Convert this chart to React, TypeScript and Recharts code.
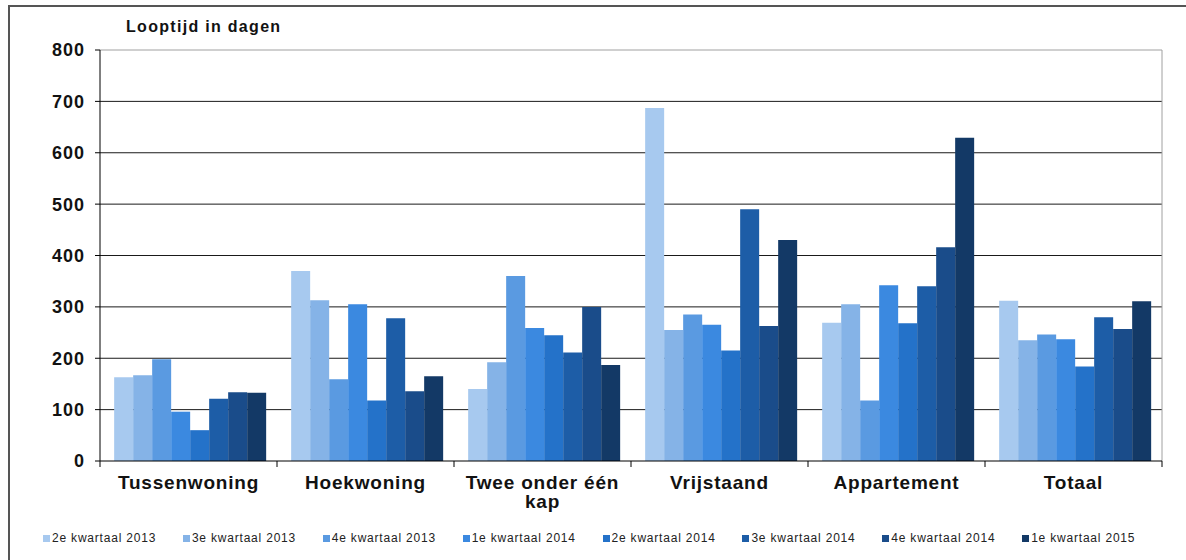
import React from "react";
import {
  BarChart,
  Bar,
  XAxis,
  YAxis,
  CartesianGrid,
  ReferenceLine,
  Legend,
} from "recharts";

// Looptijd (dagen) per woningtype, per kwartaal
const categories = [
  "Tussenwoning",
  "Hoekwoning",
  "Twee onder één kap",
  "Vrijstaand",
  "Appartement",
  "Totaal",
];

const q2_2013 = [163, 370, 140, 687, 269, 312];
const q3_2013 = [167, 313, 192, 255, 305, 235];
const q4_2013 = [198, 159, 360, 285, 118, 246];
const q1_2014 = [96, 305, 259, 265, 342, 237];
const q2_2014 = [60, 118, 245, 215, 268, 184];
const q3_2014 = [121, 278, 211, 490, 340, 280];
const q4_2014 = [134, 136, 300, 263, 416, 257];
const q1_2015 = [133, 165, 187, 430, 629, 311];

const seriesNames = [
  "2e kwartaal 2013",
  "3e kwartaal 2013",
  "4e kwartaal 2013",
  "1e kwartaal 2014",
  "2e kwartaal 2014",
  "3e kwartaal 2014",
  "4e kwartaal 2014",
  "1e kwartaal 2015",
];
const seriesValues = [q2_2013, q3_2013, q4_2013, q1_2014, q2_2014, q3_2014, q4_2014, q1_2015];
const seriesColors = [
  "#A7C9EF",
  "#85B3E7",
  "#5A9AE1",
  "#3B89E0",
  "#2472C9",
  "#1D5DA7",
  "#1A4C8A",
  "#133966",
];

const dayTicks = [0, 100, 200, 300, 400, 500, 600, 700, 800];
const gridValues = [100, 200, 300, 400, 500, 600, 700];

const data = categories.map((name, i) => {
  const row: Record<string, string | number> = { name };
  seriesNames.forEach((s, k) => {
    row[`s${k}`] = seriesValues[k][i];
  });
  return row;
});

const W = 1186;
const H = 560;
const MARGIN = { top: 50, right: 24, bottom: 0, left: 0 };
const Y_WIDTH = 100;
const BAND = (W - MARGIN.left - MARGIN.right - Y_WIDTH) / categories.length;
const FONT = "'Liberation Sans', Arial, sans-serif";
const INK = "#121212";

function wrapLabel(label: string, max = 15) {
  const lines: string[] = [];
  let cur = "";
  label.split(" ").forEach((w) => {
    const next = cur ? cur + " " + w : w;
    if (next.length > max && cur) {
      lines.push(cur);
      cur = w;
    } else {
      cur = next;
    }
  });
  if (cur) lines.push(cur);
  return lines;
}

function CategoryTick(props: any) {
  const { x, y, payload, index } = props;
  const lines = wrapLabel(String(payload.value));
  const left = x - BAND / 2;
  const right = x + BAND / 2;
  return (
    <g>
      <line x1={left} x2={left} y1={y} y2={y + 6} stroke="#000" strokeWidth={1} />
      {index === categories.length - 1 && (
        <line x1={right} x2={right} y1={y} y2={y + 6} stroke="#000" strokeWidth={1} />
      )}
      <text
        x={x}
        y={y + 28}
        textAnchor="middle"
        fill={INK}
        fontSize={19}
        fontWeight={700}
        letterSpacing={0.8}
        fontFamily={FONT}
      >
        {lines.map((l, i) => (
          <tspan key={i} x={x} dy={i === 0 ? 0 : 19}>
            {l}
          </tspan>
        ))}
      </text>
    </g>
  );
}

function LegendContent(props: any) {
  const items = [...(props.payload || [])].sort(
    (a: any, b: any) => seriesNames.indexOf(a.value) - seriesNames.indexOf(b.value)
  );
  return (
    <div
      style={{
        display: "flex",
        height: 39,
        paddingLeft: 43,
        paddingTop: 10,
        boxSizing: "border-box",
        fontFamily: FONT,
        fontSize: 12,
        letterSpacing: 0.8,
        color: "#222",
      }}
    >
      {items.map((item: any) => (
        <div
          key={item.value}
          style={{ width: 144.6, display: "flex", alignItems: "center", height: 14 }}
        >
          <span
            style={{
              display: "inline-block",
              width: 7,
              height: 7,
              background: item.color,
              marginRight: 2,
            }}
          />
          <span style={{ whiteSpace: "nowrap" }}>{item.value}</span>
        </div>
      ))}
    </div>
  );
}

export default function App() {
  return (
    <div style={{ position: "absolute", left: 0, top: 0, width: W, height: H, background: "#fff" }}>
      <div
        style={{
          position: "absolute",
          left: 8,
          top: 5,
          width: W - 8,
          height: H,
          borderTop: "2px solid #555",
          borderLeft: "2px solid #555",
          boxSizing: "border-box",
        }}
      />
      <div
        style={{
          position: "absolute",
          left: 126,
          top: 18,
          fontFamily: FONT,
          fontSize: 16,
          fontWeight: 700,
          letterSpacing: 1.3,
          color: INK,
        }}
      >
        Looptijd in dagen
      </div>
      <BarChart
        width={W}
        height={H}
        data={data}
        margin={MARGIN}
        barCategoryGap="8%"
        barGap={0}
        style={{ fontFamily: FONT }}
      >
        <CartesianGrid vertical={false} horizontalValues={gridValues} stroke="#1a1a1a" />
        <CartesianGrid
          horizontal={false}
          stroke="#a0a0a0"
          verticalCoordinatesGenerator={({ offset }: any) => [offset.left + offset.width]}
        />
        <ReferenceLine y={800} stroke="#a0a0a0" />
        <XAxis
          dataKey="name"
          height={60}
          axisLine={{ stroke: "#000" }}
          tickLine={false}
          tickSize={0}
          tickMargin={0}
          interval={0}
          tick={<CategoryTick />}
        />
        <YAxis
          width={Y_WIDTH}
          domain={[0, 800]}
          ticks={dayTicks}
          interval={0}
          axisLine={{ stroke: "#000" }}
          tickLine={{ stroke: "#000" }}
          tickSize={5}
          tickMargin={10}
          tick={{ fill: INK, fontSize: 18, fontWeight: 700, letterSpacing: 1 }}
        />
        <Legend verticalAlign="bottom" content={<LegendContent />} />
        {seriesNames.map((s, k) => (
          <Bar
            key={s}
            dataKey={`s${k}`}
            name={s}
            fill={seriesColors[k]}
            isAnimationActive={false}
          />
        ))}
      </BarChart>
    </div>
  );
}
